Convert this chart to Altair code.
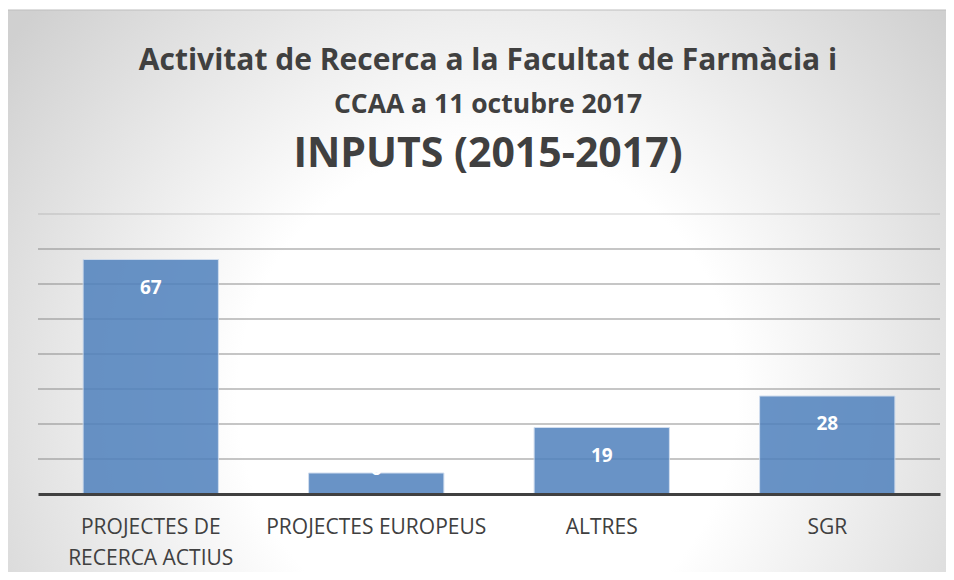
import altair as alt
import pandas as pd

categories = ["PROJECTES DE RECERCA ACTIUS", "PROJECTES EUROPEUS", "ALTRES", "SGR"]
values = [67, 6, 19, 28]
grid_values = [10, 20, 30, 40, 50, 60, 70, 80]
title_line1 = "Activitat de Recerca a la Facultat de Farmàcia i"
title_line2 = "CCAA a 11 octubre 2017"
subtitle_text = "INPUTS (2015-2017)"

df = pd.DataFrame({"cat": categories, "v": values})
gdf = pd.DataFrame({"g": grid_values})
one = pd.DataFrame({"a": [0]})

FONT = "Open Sans"
TXT = "#404040"
W, H = 902, 280

yscale = alt.Scale(domain=[0, 80])

bg = alt.Chart(one).mark_rect(
    fill=alt.Gradient(
        gradient="radial",
        stops=[
            alt.GradientStop(color="#ffffff", offset=0),
            alt.GradientStop(color="#ffffff", offset=0.42),
            alt.GradientStop(color="#d0d0d0", offset=1),
        ],
        x1=0.5, y1=0.6, r1=0, x2=0.5, y2=0.6, r2=0.62,
    ),
    stroke="#bdbdbd",
    strokeWidth=1,
    clip=False,
).encode(x=alt.value(-31), x2=alt.value(930), y=alt.value(-204), y2=alt.value(380))

grid = alt.Chart(gdf).mark_rule(color="#7f7f7f", strokeWidth=1.5).encode(
    y=alt.Y("g:Q", scale=yscale, axis=None),
    opacity=alt.condition("datum.g == 80", alt.value(0.25), alt.value(0.6)),
)

xenc = alt.X(
    "cat:N",
    sort=categories,
    scale=alt.Scale(paddingInner=0.4, paddingOuter=0.2),
    axis=alt.Axis(
        title=None,
        labelAngle=0,
        ticks=False,
        domainWidth=3,
        domainColor="#404040",
        labelFont=FONT,
        labelFontSize=21,
        labelColor=TXT,
        labelPadding=22,
        labelLineHeight=31,
        labelLimit=400,
        labelBaseline="top",
        labelExpr="datum.label == 'PROJECTES DE RECERCA ACTIUS' ? ['PROJECTES DE', 'RECERCA ACTIUS'] : datum.label",
        zindex=1,
    ),
)

bars = alt.Chart(df).mark_bar(
    color="#4f81bd", opacity=0.85, stroke="#c9d8ec", strokeWidth=1
).encode(x=xenc, y=alt.Y("v:Q", scale=yscale, axis=None))

labels_in = alt.Chart(df).transform_filter("datum.v >= 10").mark_text(
    color="white", font=FONT, fontWeight="bold", fontSize=19, baseline="middle", dy=28
).encode(x=alt.X("cat:N", sort=categories), y=alt.Y("v:Q", scale=yscale, axis=None), text="v:Q")

labels_small = alt.Chart(df).transform_filter("datum.v < 10").mark_text(
    color="white", font=FONT, fontWeight="bold", fontSize=19, baseline="alphabetic", dy=2
).encode(x=alt.X("cat:N", sort=categories), y=alt.Y("v:Q", scale=yscale, axis=None), text="v:Q")


def title_mark(txt, size, ypos):
    return alt.Chart(one).mark_text(
        font=FONT, fontWeight="bold", fontSize=size, color=TXT, align="center", baseline="alphabetic"
    ).encode(x=alt.value(450), y=alt.value(ypos), text=alt.value(txt))


t1 = title_mark(title_line1, 30, -144)
t2 = title_mark(title_line2, 26.5, -101)
t3 = title_mark(subtitle_text, 41, -47)

chart = alt.layer(bg, grid, bars, labels_in, labels_small, t1, t2, t3).properties(
    width=W,
    height=H,
    autosize=alt.AutoSizeParams(type="none"),
    padding={"left": 30, "top": 206, "right": 6, "bottom": 78},
).configure_view(stroke=None).configure(background="white")

chart.save("out.html", embed_options={"renderer": "svg", "actions": False})
